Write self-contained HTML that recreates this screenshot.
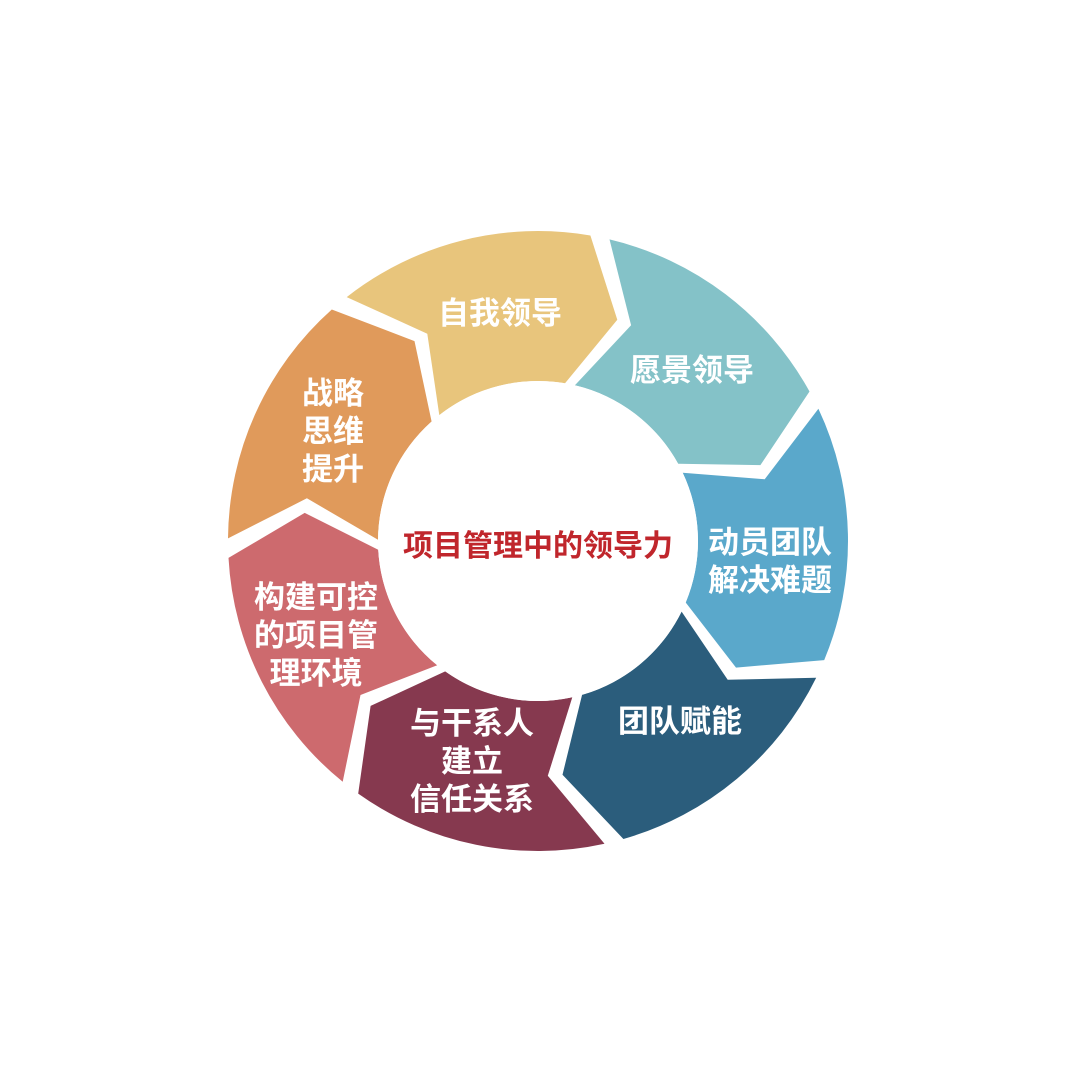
<!DOCTYPE html>
<html><head><meta charset="utf-8">
<style>
html,body{margin:0;padding:0;background:#fff;}
#wrap{position:relative;width:1080px;height:1080px;overflow:hidden;}
svg{position:absolute;left:0;top:0;}
.t{position:absolute;color:#fff;font-family:"Liberation Sans","Noto Sans CJK SC",sans-serif;font-weight:bold;font-size:31px;line-height:38px;text-align:center;transform:translate(-50%,-50%);white-space:nowrap;}
.c{position:absolute;color:#c0262c;font-family:"Liberation Sans","Noto Sans CJK SC",sans-serif;font-weight:bold;font-size:30px;transform:translate(-50%,-50%);white-space:nowrap;}
</style></head><body>
<div id="wrap">
<svg id="s" width="1080" height="1080" viewBox="0 0 1080 1080"></svg>
<div class="t" style="left:500px;top:314px">自我领导</div>
<div class="t" style="left:692px;top:371px">愿景领导</div>
<div class="t" style="left:770px;top:562px">动员团队<br>解决难题</div>
<div class="t" style="left:680px;top:722px">团队赋能</div>
<div class="t" style="left:472px;top:762px">与干系人<br>建立<br>信任关系</div>
<div class="t" style="left:316px;top:636px">构建可控<br>的项目管<br>理环境</div>
<div class="t" style="left:333px;top:432px">战略<br>思维<br>提升</div>
<div class="c" style="left:538px;top:543px">项目管理中的领导力</div>
</div>
<script>
(function(){
var cx=538,cy=541,R=310,r=160,Rm=235,tip=10,g=1.8;
var cols=["#e8c57c","#84c2c8","#5aa8cb","#2b5d7c","#86394f","#cd6a6e","#e09a5b"];
var start=-39.9;
function p(rad,ang){var a=ang*Math.PI/180;return (cx+rad*Math.sin(a)).toFixed(1)+","+(cy-rad*Math.cos(a)).toFixed(1);}
var h="";
for(var i=0;i<7;i++){
 var b0=start+i*360/7, b1=b0+360/7;
 var d="M"+p(R,b0+g)+" A"+R+","+R+" 0 0 1 "+p(R,b1-g)+" L"+p(Rm,b1+tip-g)+" L"+p(r,b1-g)+
 " A"+r+","+r+" 0 0 0 "+p(r,b0+g)+" L"+p(Rm,b0+tip+g)+" Z";
 h+='<path d="'+d+'" fill="'+cols[i]+'"/>';
}
h+='<circle cx="'+cx+'" cy="'+cy+'" r="'+r+'" fill="#fff"/>';
document.getElementById("s").innerHTML=h;
})();
</script>
</body></html>
